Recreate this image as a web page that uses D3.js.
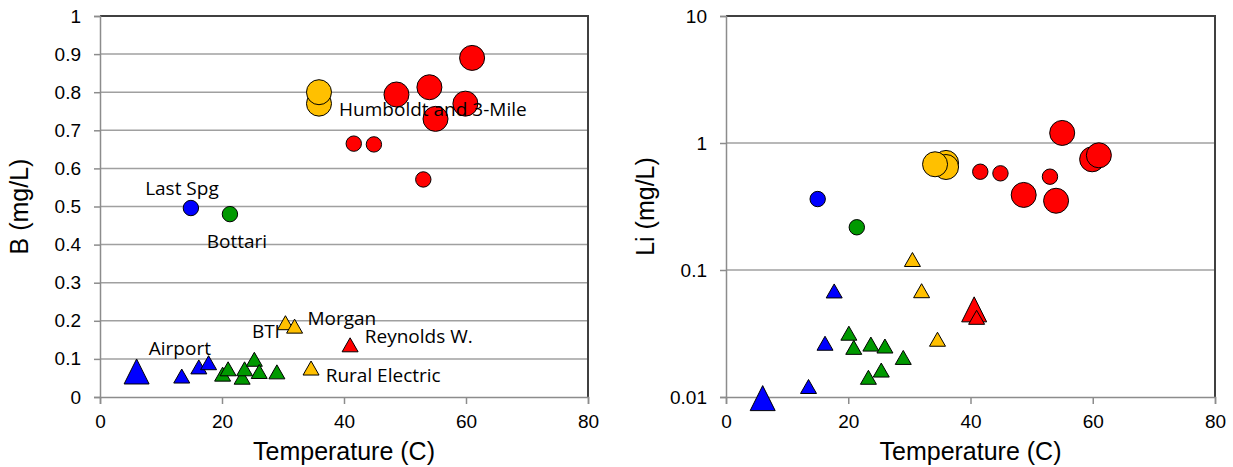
<!DOCTYPE html>
<html>
<head>
<meta charset="utf-8">
<script src="https://cdn.jsdelivr.net/npm/d3@7/dist/d3.min.js"></script>
<style>
  body { margin: 0; background: #fff; }
  .tick text { font-family: "Liberation Sans", Arial, sans-serif; font-size: 19px; fill: #000; }
  .ttl { font-family: "Liberation Sans", Arial, sans-serif; font-size: 25px; fill: #000; }
  .lbl { font-family: "Open Sans", sans-serif; font-size: 19px; fill: #000; }
</style>
</head>
<body>
<div id="view-container"></div>
<script>
// ---------- data (temperature C, concentration mg/L) ----------
// group: LastSpg = blue, Bottari = green, Morgan = orange, Humboldt = red
// big = sample from the larger-marker data set
var groups = ["LastSpg", "Bottari", "Morgan", "Humboldt"];

// boron, circles
var boronCircles = [
  {g: "LastSpg", t: 14.9, v: 0.496, big: false},
  {g: "Bottari", t: 21.3, v: 0.480, big: false},
  {g: "Morgan", t: 35.9, v: 0.770, big: true},
  {g: "Morgan", t: 35.9, v: 0.800, big: true},
  {g: "Humboldt", t: 41.6, v: 0.665, big: false},
  {g: "Humboldt", t: 44.9, v: 0.663, big: false},
  {g: "Humboldt", t: 53.0, v: 0.571, big: false},
  {g: "Humboldt", t: 48.6, v: 0.794, big: true},
  {g: "Humboldt", t: 54.0, v: 0.813, big: true},
  {g: "Humboldt", t: 61.0, v: 0.890, big: true},
  {g: "Humboldt", t: 55.0, v: 0.730, big: true},
  {g: "Humboldt", t: 59.9, v: 0.770, big: true}
];
// boron, triangles
var boronTriangles = [
  {g: "LastSpg", t: 6.0, v: 0.067, big: true},
  {g: "LastSpg", t: 13.4, v: 0.055, big: false},
  {g: "LastSpg", t: 16.2, v: 0.079, big: false},
  {g: "LastSpg", t: 17.8, v: 0.090, big: false},
  {g: "Bottari", t: 20.1, v: 0.060, big: false},
  {g: "Bottari", t: 21.0, v: 0.074, big: false},
  {g: "Bottari", t: 23.3, v: 0.052, big: false},
  {g: "Bottari", t: 23.7, v: 0.074, big: false},
  {g: "Bottari", t: 25.3, v: 0.099, big: false},
  {g: "Bottari", t: 26.1, v: 0.067, big: false},
  {g: "Bottari", t: 29.0, v: 0.066, big: false},
  {g: "Morgan", t: 30.4, v: 0.195, big: false},
  {g: "Morgan", t: 31.9, v: 0.186, big: false},
  {g: "Morgan", t: 34.6, v: 0.076, big: false},
  {g: "Humboldt", t: 41.0, v: 0.137, big: false}
];
// site labels on the boron chart (text anchored at temp / value)
var boronLabels = [
  {text: "Last Spg", t: 7.4, v: 0.530},
  {text: "Bottari", t: 17.5, v: 0.391},
  {text: "Humboldt and 3-Mile", t: 39.2, v: 0.7375},
  {text: "Airport", t: 8.0, v: 0.110},
  {text: "BTI", t: 24.9, v: 0.156},
  {text: "Morgan", t: 34.0, v: 0.189},
  {text: "Reynolds W.", t: 43.4, v: 0.141},
  {text: "Rural Electric", t: 37.0, v: 0.040}
];

// lithium, circles
var lithiumCircles = [
  {g: "LastSpg", t: 15.0, v: 0.362, big: false},
  {g: "Bottari", t: 21.4, v: 0.217, big: false},
  {g: "Morgan", t: 36.0, v: 0.697, big: true},
  {g: "Morgan", t: 36.0, v: 0.647, big: true},
  {g: "Morgan", t: 34.2, v: 0.680, big: true},
  {g: "Humboldt", t: 41.6, v: 0.594, big: false},
  {g: "Humboldt", t: 44.9, v: 0.577, big: false},
  {g: "Humboldt", t: 53.0, v: 0.543, big: false},
  {g: "Humboldt", t: 48.7, v: 0.390, big: true},
  {g: "Humboldt", t: 54.0, v: 0.351, big: true},
  {g: "Humboldt", t: 55.0, v: 1.200, big: true},
  {g: "Humboldt", t: 59.9, v: 0.744, big: true},
  {g: "Humboldt", t: 61.0, v: 0.800, big: true}
];
// lithium, triangles
var lithiumTriangles = [
  {g: "LastSpg", t: 6.0, v: 0.0098, big: true},
  {g: "LastSpg", t: 13.5, v: 0.0121, big: false},
  {g: "LastSpg", t: 16.2, v: 0.0265, big: false},
  {g: "LastSpg", t: 17.7, v: 0.0684, big: false},
  {g: "Bottari", t: 20.1, v: 0.0318, big: false},
  {g: "Bottari", t: 20.9, v: 0.0246, big: false},
  {g: "Bottari", t: 23.7, v: 0.0261, big: false},
  {g: "Bottari", t: 23.3, v: 0.0143, big: false},
  {g: "Bottari", t: 26.0, v: 0.0252, big: false},
  {g: "Bottari", t: 25.4, v: 0.0163, big: false},
  {g: "Bottari", t: 29.0, v: 0.0205, big: false},
  {g: "Morgan", t: 30.5, v: 0.121, big: false},
  {g: "Morgan", t: 32.0, v: 0.0687, big: false},
  {g: "Morgan", t: 34.6, v: 0.0285, big: false},
  {g: "Humboldt", t: 40.6, v: 0.049, big: true},
  {g: "Humboldt", t: 41.0, v: 0.0424, big: false}
];

var xTicks = [0, 20, 40, 60, 80];
var boronTicks = [0, 0.1, 0.2, 0.3, 0.4, 0.5, 0.6, 0.7, 0.8, 0.9, 1];
var lithiumTicks = [0.01, 0.1, 1, 10];

// ---------- layout ----------
var widthTotal = 1233, heightTotal = 467;
var plotTop = 16, plotBottom = 397;
var leftPanel = {x0: 100, x1: 588};
var rightPanel = {x0: 726, x1: 1215};

var colorOf = d3.scaleOrdinal()
  .domain(groups)
  .range(["#0000ff", "#009900", "#ffc000", "#ff0000"]);

var svg = d3.select("#view-container").append("svg")
  .attr("width", widthTotal)
  .attr("height", heightTotal);

function triPath(cx, cy, w, h) {
  return "M" + cx + "," + (cy - h / 2) +
    "L" + (cx + w / 2) + "," + (cy + h / 2) +
    "L" + (cx - w / 2) + "," + (cy + h / 2) + "Z";
}

function drawPanel(panel, yScale, yTicks, yFormat, yTitle, circles, triangles, labels) {
  var x = d3.scaleLinear().domain([0, 80]).range([panel.x0, panel.x1]);
  var g = svg.append("g");

  // gridlines
  g.selectAll("line.grid")
    .data(yTicks.slice(1))
    .enter()
    .append("line")
    .attr("class", "grid")
    .attr("x1", panel.x0).attr("x2", panel.x1)
    .attr("y1", function(d) { return yScale(d); })
    .attr("y2", function(d) { return yScale(d); })
    .attr("stroke", "#a0a0a0")
    .attr("stroke-width", 1.5);

  // plot border (top + right)
  g.append("path")
    .attr("d", "M" + panel.x0 + "," + plotTop + "H" + panel.x1 + "V" + plotBottom)
    .attr("fill", "none")
    .attr("stroke", "#404040")
    .attr("stroke-width", 2);

  // axes
  var xAxis = g.append("g")
    .attr("transform", "translate(0," + plotBottom + ")")
    .call(d3.axisBottom(x).tickValues(xTicks).tickSize(7).tickPadding(10.5).tickFormat(d3.format("d")));
  var yAxis = g.append("g")
    .attr("transform", "translate(" + panel.x0 + ",0)")
    .call(d3.axisLeft(yScale).tickValues(yTicks).tickSize(6).tickPadding(13).tickFormat(yFormat));
  [xAxis, yAxis].forEach(function(a) {
    a.select(".domain").attr("stroke", "#8c8c8c").attr("stroke-width", 1.5);
    a.selectAll(".tick line").attr("stroke", "#8c8c8c").attr("stroke-width", 1.5);
  });

  // titles
  g.append("text")
    .attr("class", "ttl")
    .attr("x", (panel.x0 + panel.x1) / 2)
    .attr("y", 460)
    .attr("text-anchor", "middle")
    .text("Temperature (C)");
  g.append("text")
    .attr("class", "ttl")
    .attr("transform", "translate(" + (panel.x0 - 72) + "," + ((plotTop + plotBottom) / 2) + ") rotate(-90)")
    .attr("text-anchor", "middle")
    .text(yTitle);

  // circles
  g.selectAll("circle.pt")
    .data(circles)
    .enter()
    .append("circle")
    .attr("class", "pt")
    .attr("cx", function(d) { return x(d.t); })
    .attr("cy", function(d) { return yScale(d.v); })
    .attr("r", function(d) { return d.big ? 12.5 : 7.7; })
    .attr("fill", function(d) { return colorOf(d.g); })
    .attr("stroke", "#000")
    .attr("stroke-width", 1);

  // triangles
  g.selectAll("path.tri")
    .data(triangles)
    .enter()
    .append("path")
    .attr("class", "tri")
    .attr("d", function(d) {
      return d.big ? triPath(x(d.t), yScale(d.v), 25, 25) : triPath(x(d.t), yScale(d.v), 16, 14);
    })
    .attr("fill", function(d) { return colorOf(d.g); })
    .attr("stroke", "#000")
    .attr("stroke-width", 1);

  // labels
  g.selectAll("text.lbl")
    .data(labels)
    .enter()
    .append("text")
    .attr("class", "lbl")
    .attr("x", function(d) { return x(d.t); })
    .attr("y", function(d) { return yScale(d.v); })
    .text(function(d) { return d.text; });
}

var yBoron = d3.scaleLinear().domain([0, 1]).range([plotBottom, plotTop]);
var yLithium = d3.scaleLog().domain([0.01, 10]).range([plotBottom, plotTop]);

drawPanel(leftPanel, yBoron, boronTicks, function(d) { return d === 0 || d === 1 ? String(d) : d3.format(".1f")(d); },
  "B (mg/L)", boronCircles, boronTriangles, boronLabels);
drawPanel(rightPanel, yLithium, lithiumTicks, function(d) { return String(d); },
  "Li (mg/L)", lithiumCircles, lithiumTriangles, []);
</script>
</body>
</html>
